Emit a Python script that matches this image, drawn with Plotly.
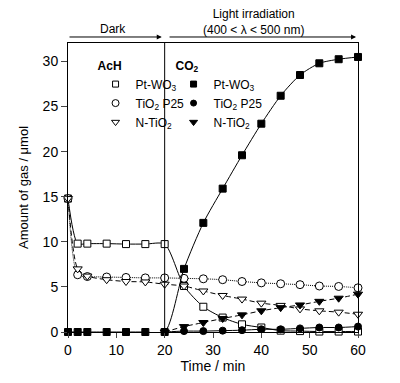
import plotly.graph_objects as go

FONT = "Liberation Sans, Arial, sans-serif"

time_all = [0, 2, 4, 8, 12, 16, 20, 24, 28, 32, 36, 40, 44, 48, 52, 56, 60]
time_light = [20, 24, 28, 32, 36, 40, 44, 48, 52, 56, 60]

# Acetaldehyde (AcH)
ach_ptwo3 = [14.8, 9.8, 9.8, 9.8, 9.75, 9.75, 9.75, 5.1, 2.8, 1.6, 0.85, 0.5, 0.15, 0.1, 0.05, 0.05, 0.05]
ach_p25 = [14.8, 6.35, 6.15, 6.1, 6.05, 6.0, 6.0, 5.95, 5.9, 5.8, 5.6, 5.45, 5.35, 5.25, 5.1, 5.05, 4.9]
ach_ntio2 = [14.8, 7.0, 6.2, 5.8, 5.6, 5.55, 5.3, 5.1, 4.55, 4.05, 3.65, 3.2, 2.95, 2.56, 2.35, 2.2, 1.97]

# CO2
co2_ptwo3 = [0, 0, 0, 0, 0, 0, 0, 7.0, 12.1, 15.9, 19.6, 23.1, 26.2, 28.5, 29.8, 30.25, 30.5]
co2_p25 = [0, 0.1, 0.1, 0.15, 0.2, 0.3, 0.3, 0.4, 0.5, 0.5, 0.6]
co2_ntio2 = [0, 0.6, 1.05, 1.5, 1.9, 2.35, 2.7, 3.0, 3.4, 3.75, 4.2]

labels = ["Pt-WO<sub>3</sub>", "TiO<sub>2</sub> P25", "N-TiO<sub>2</sub>"]

fig = go.Figure()

# (x, y, symbol, fill, dash, size)
series = [
    (time_all, ach_ptwo3, "square", "white", "solid", 7),
    (time_all, ach_p25, "circle", "white", "1px,1px", 8),
    (time_all, ach_ntio2, "triangle-down", "white", "5px,3px", 8),
    (time_all, co2_ptwo3, "square", "black", "solid", 7),
    (time_light, co2_p25, "circle", "black", "solid", 7),
    (time_light, co2_ntio2, "triangle-down", "black", "5px,3px", 8),
]
for x, y, sym, fill, dash, size in series:
    fig.add_trace(go.Scatter(
        x=x, y=y, mode="lines+markers", showlegend=False, cliponaxis=False,
        line=dict(color="black", width=1, dash=dash, shape="spline", smoothing=0.7),
        marker=dict(symbol=sym, size=size, color=fill, line=dict(color="black", width=1)),
    ))

# legend-only entries
for i, (sym, size) in enumerate([("square", 6), ("circle", 7), ("triangle-down", 7)]):
    fig.add_trace(go.Scatter(x=[None], y=[None], mode="markers", name=labels[i], legend="legend",
                             marker=dict(symbol=sym, size=size, color="white", line=dict(color="black", width=1))))
for i, (sym, size) in enumerate([("square", 6), ("circle", 6), ("triangle-down", 7)]):
    fig.add_trace(go.Scatter(x=[None], y=[None], mode="markers", name=labels[i], legend="legend2",
                             marker=dict(symbol=sym, size=size, color="black", line=dict(color="black", width=1))))

fig.add_shape(type="line", xref="x", yref="paper", x0=20, x1=20, y0=0, y1=1,
              line=dict(color="black", width=1))

ya = 1.0208
fig.add_annotation(x=19.4, y=ya, xref="x", yref="paper", ax=0, ay=0, axref="x", ayref="pixel",
                   showarrow=True, arrowhead=2, arrowsize=1, arrowwidth=1, arrowcolor="black", text="")
fig.add_annotation(x=59.6, y=ya, xref="x", yref="paper", ax=20.7, ay=0, axref="x", ayref="pixel",
                   showarrow=True, arrowhead=2, arrowsize=1, arrowwidth=1, arrowcolor="black", text="")
fig.add_annotation(x=9.3, y=ya, xref="x", yref="paper", yanchor="bottom", yshift=-1, text="Dark",
                   showarrow=False, font=dict(size=12, family=FONT, color="black"))
fig.add_annotation(x=38.4, y=ya, xref="x", yref="paper", yanchor="bottom", yshift=-2,
                   text="Light irradiation<br>(400 < λ < 500 nm)", showarrow=False,
                   font=dict(size=12, family=FONT, color="black"))

# page body adds an 8px offset, so the figure is 8px smaller and margins shifted
fig.update_layout(
    width=392, height=375,
    margin=dict(l=60, r=42, t=35, b=51),
    paper_bgcolor="white", plot_bgcolor="white",
    font=dict(family=FONT, size=14, color="black"),
    xaxis=dict(range=[0, 60], tickvals=[0, 10, 20, 30, 40, 50, 60], ticks="outside", ticklen=5,
               ticklabelstandoff=0, automargin=False,
               showline=True, linecolor="black", linewidth=1, mirror=True, showgrid=False, zeroline=False,
               title=dict(text="Time / min", font=dict(size=14), standoff=0)),
    yaxis=dict(range=[0, 32.05], tickvals=[0, 5, 10, 15, 20, 25, 30], ticks="outside", ticklen=6,
               automargin=False,
               showline=True, linecolor="black", linewidth=1, mirror=True, showgrid=False, zeroline=False,
               title=dict(text="Amount of gas / μmol", font=dict(size=13), standoff=11)),
    legend=dict(x=0.095, y=0.962, xanchor="left", yanchor="top", bgcolor="rgba(0,0,0,0)",
                title=dict(text="<b>AcH</b>", font=dict(size=12)), font=dict(size=12), itemwidth=30,
                tracegroupgap=0),
    legend2=dict(x=0.364, y=0.962, xanchor="left", yanchor="top", bgcolor="rgba(0,0,0,0)",
                 title=dict(text="<b>CO<sub>2</sub></b>", font=dict(size=12)), font=dict(size=12), itemwidth=30,
                 tracegroupgap=0),
)

fig.write_html("out.html")
